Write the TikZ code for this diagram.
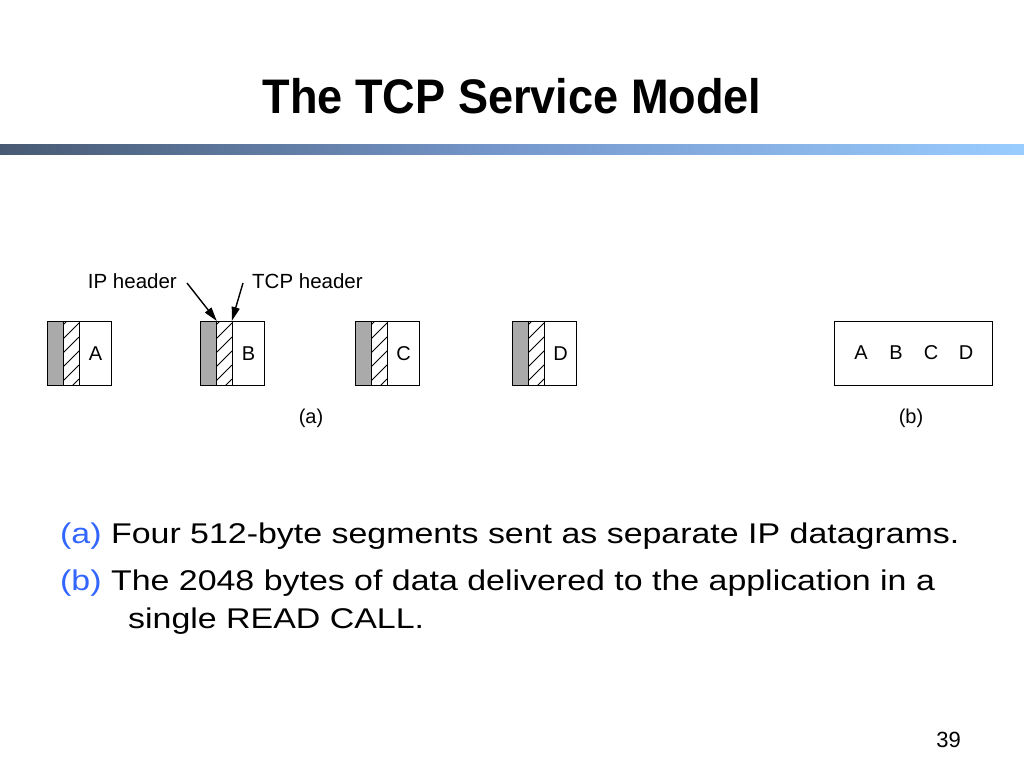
\documentclass[tikz,border=0pt]{standalone}
\usepackage{fontspec}
\setmainfont{Liberation Sans}
\usetikzlibrary{arrows.meta}
\definecolor{barleft}{RGB}{72,90,115}
\definecolor{barmid}{RGB}{118,152,205}
\definecolor{barright}{RGB}{153,204,255}
\definecolor{capblue}{RGB}{51,102,255}
\definecolor{ipgray}{RGB}{170,170,170}
\tikzset{
  ipbox/.style={draw=black, line width=1.3pt, fill=ipgray, minimum width=16pt, minimum height=64pt, inner sep=0pt, anchor=north west},
  tcpbox/.style={draw=black, line width=1.3pt, minimum width=16pt, minimum height=64pt, inner sep=0pt, anchor=north west},
  databox/.style={draw=black, line width=1.3pt, minimum width=32pt, minimum height=64pt, inner sep=0pt, anchor=north west, font=\fontsize{20}{24}\selectfont},
  bigbox/.style={draw=black, line width=1.3pt, minimum width=158pt, minimum height=64pt, inner sep=0pt, anchor=north west},
  letter/.style={inner sep=0pt, font=\fontsize{20}{24}\selectfont},
  lbl/.style={inner sep=0pt, font=\fontsize{20.5}{24}\selectfont},
  body/.style={inner sep=0pt, anchor=base west, font=\fontsize{28.5}{34}\selectfont},
  ptr/.style={line width=1.4pt, -{Triangle[length=14pt,width=8pt]}},
  hatch/.style={line width=0.8pt}
}
\newcommand{\wide}[1]{\scalebox{1.19}[1]{#1}}
\newcommand{\segment}[3]{%
  \node[ipbox] (ip#3) at (#1,321) {};
  \node[tcpbox] (tcp#3) at (#1+16,321) {};
  \begin{scope}
    \clip (#1+16,321) rectangle (#1+32,385);
    \foreach \k in {0,...,5} {
      \draw[hatch] (#1+16,321+\k*14+4) -- (#1+32,321+\k*14-12);
    }
  \end{scope}
  \node[tcpbox] at (#1+16,321) {};
  \node[databox] (data#3) at (#1+32,321) {#2};
}
\begin{document}
\begin{tikzpicture}[x=1pt,y=-1pt]
\fill[white] (0,0) rectangle (1024,768);
\useasboundingbox (0,0) rectangle (1024,768);
% title
\node[inner sep=0pt, anchor=base, font=\bfseries\fontsize{48.5}{56}\selectfont] (title) at (512,113) {\scalebox{0.93}[1]{The TCP Service Model}};
% gradient bar
\shade[left color=barleft, right color=barmid] (0,144) rectangle (512,154);
\shade[left color=barmid, right color=barright] (511.5,144) rectangle (1024,154);
% segments
\segment{47}{A}{a}
\segment{200}{B}{b}
\segment{355}{C}{c}
\segment{512}{D}{d}
% labels and arrows
\node[lbl, anchor=base east] (iplbl) at (177,288) {IP header};
\node[lbl, anchor=base west] (tcplbl) at (252,288) {TCP header};
\coordinate (ipstart) at (187,283);
\coordinate (tcpstart) at (243,283);
\draw[ptr] (ipstart) -- ([xshift=-0.5pt]ipb.north east);
\draw[ptr] (tcpstart) -- ([xshift=-1.5pt]tcpb.north east);
% box b
\node[bigbox] (whole) at (834,321) {};
\node[letter] (la) at (861,353) {A};
\node[letter] (lb) at (896,353) {B};
\node[letter] (lc) at (931,353) {C};
\node[letter] (ld) at (966,353) {D};
\node[lbl, font=\fontsize{20}{24}\selectfont, anchor=base] (capa) at (311,423) {(a)};
\node[lbl, font=\fontsize{20}{24}\selectfont, anchor=base] (capb) at (911,423) {(b)};
% body text
\node[body] (linea) at (60,543) {\wide{\textcolor{capblue}{(a)} Four 512-byte segments sent as separate IP datagrams.}};
\node[body] (lineb) at (60,590) {\wide{\textcolor{capblue}{(b)} The 2048 bytes of data delivered to the application in a}};
\node[body] (linec) at (128,628) {\wide{single READ CALL.}};
% page number
\node[inner sep=0pt, anchor=base east, font=\fontsize{22}{26}\selectfont] (page) at (961,747) {39};
\end{tikzpicture}
\end{document}
